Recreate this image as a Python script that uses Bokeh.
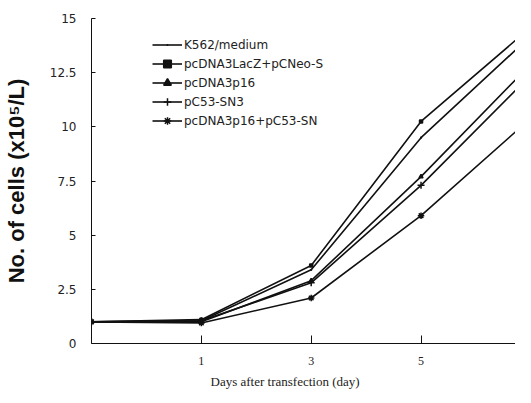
from bokeh.plotting import figure
from bokeh.models import FixedTicker, Range1d, Title
from bokeh.embed import file_html
from bokeh.resources import INLINE

# ---- data ----
days = [0, 1, 3, 5, 7]
series_names = ["K562/medium", "pcDNA3LacZ+pCNeo-S", "pcDNA3p16", "pC53-SN3", "pcDNA3p16+pC53-SN"]
k562_medium = [1.0, 1.05, 3.4, 9.5, 14.2]
lacz_neo = [1.0, 1.1, 3.6, 10.25, 14.6]
p16 = [1.0, 1.0, 2.9, 7.7, 12.9]
c53_sn3 = [1.0, 1.05, 2.8, 7.3, 12.4]
p16_c53 = [1.0, 0.95, 2.1, 5.9, 10.4]
series_values = [k562_medium, lacz_neo, p16, c53_sn3, p16_c53]
markers = ["dot", "square", "triangle", "cross", "asterisk"]
marker_sizes = [9, 3, 4, 7, 6.5]
y_ticks = [0, 2.5, 5, 7.5, 10, 12.5, 15]
y_tick_labels = ["0", "2.5", "5", "7.5", "10", "12.5", "15"]
x_tick_days = [1, 3, 5]

# days are placed at equal spacing (index positions)
xpos = list(range(len(days)))
x_ticks = [days.index(d) for d in x_tick_days]

p = figure(width=515, height=395, output_backend="svg", toolbar_location=None,
           x_range=Range1d(0, 3.86), y_range=Range1d(0, 15),
           min_border_left=86, min_border_top=18, min_border_right=0, min_border_bottom=52)
p.outline_line_color = None
p.grid.visible = False
p.background_fill_color = "white"
p.border_fill_color = "white"

for name, vals, mk, ms in zip(series_names, series_values, markers, marker_sizes):
    p.line(xpos, vals, line_color="#111111", line_width=1.6, legend_label=name)
    p.scatter(xpos, vals, marker=mk, size=ms, line_color="#111111", fill_color="#111111",
              line_width=1.5, legend_label=name)

# axes
p.xaxis.ticker = FixedTicker(ticks=x_ticks)
p.xaxis.major_label_overrides = {i: str(d) for i, d in zip(x_ticks, x_tick_days)}
p.xaxis.major_tick_in = 8
p.xaxis.major_tick_out = 0
p.xaxis.minor_tick_line_color = None
p.xaxis.major_label_text_font = "Liberation Serif"
p.xaxis.major_label_text_font_size = "12px"
p.xaxis.major_label_text_color = "#222222"
p.xaxis.major_label_standoff = 13
p.xaxis.axis_label_standoff = 0
p.xaxis.axis_line_color = "#111111"
p.xaxis.major_tick_line_color = "#111111"

p.yaxis.ticker = FixedTicker(ticks=y_ticks)
p.yaxis.major_label_overrides = {t: l for t, l in zip(y_ticks, y_tick_labels)}
p.yaxis.major_tick_in = 4
p.yaxis.major_tick_out = 0
p.yaxis.minor_tick_line_color = None
p.yaxis.major_label_text_font = "DejaVu Sans"
p.yaxis.major_label_text_font_size = "12px"
p.yaxis.major_label_text_color = "#222222"
p.yaxis.major_label_standoff = 15
p.yaxis.axis_line_color = "#111111"
p.yaxis.major_tick_line_color = "#111111"
p.yaxis.axis_label = "No. of cells (x10\u2075/L)"
p.yaxis.axis_label_text_font = "Liberation Sans"
p.yaxis.axis_label_text_font_size = "22px"
p.yaxis.axis_label_text_font_style = "bold"
p.yaxis.axis_label_text_color = "#111111"
p.yaxis.axis_label_standoff = 18

xlabel = Title(text="Days after transfection (day)", align="left", offset=119,
               text_font="Liberation Serif", text_font_size="13px",
               text_font_style="normal", text_color="#222222", standoff=9)
p.add_layout(xlabel, "below")

# legend
lg = p.legend[0]
lg.location = (61, 213)
lg.border_line_color = None
lg.background_fill_alpha = 0
lg.padding = 0
lg.margin = 0
lg.spacing = 0
lg.label_height = 19
lg.glyph_height = 19
lg.glyph_width = 30
lg.label_standoff = 2
lg.label_text_font = "DejaVu Sans"
lg.label_text_font_size = "12px"
lg.label_text_color = "#222222"

open("out.html", "w").write(file_html(p, INLINE))
